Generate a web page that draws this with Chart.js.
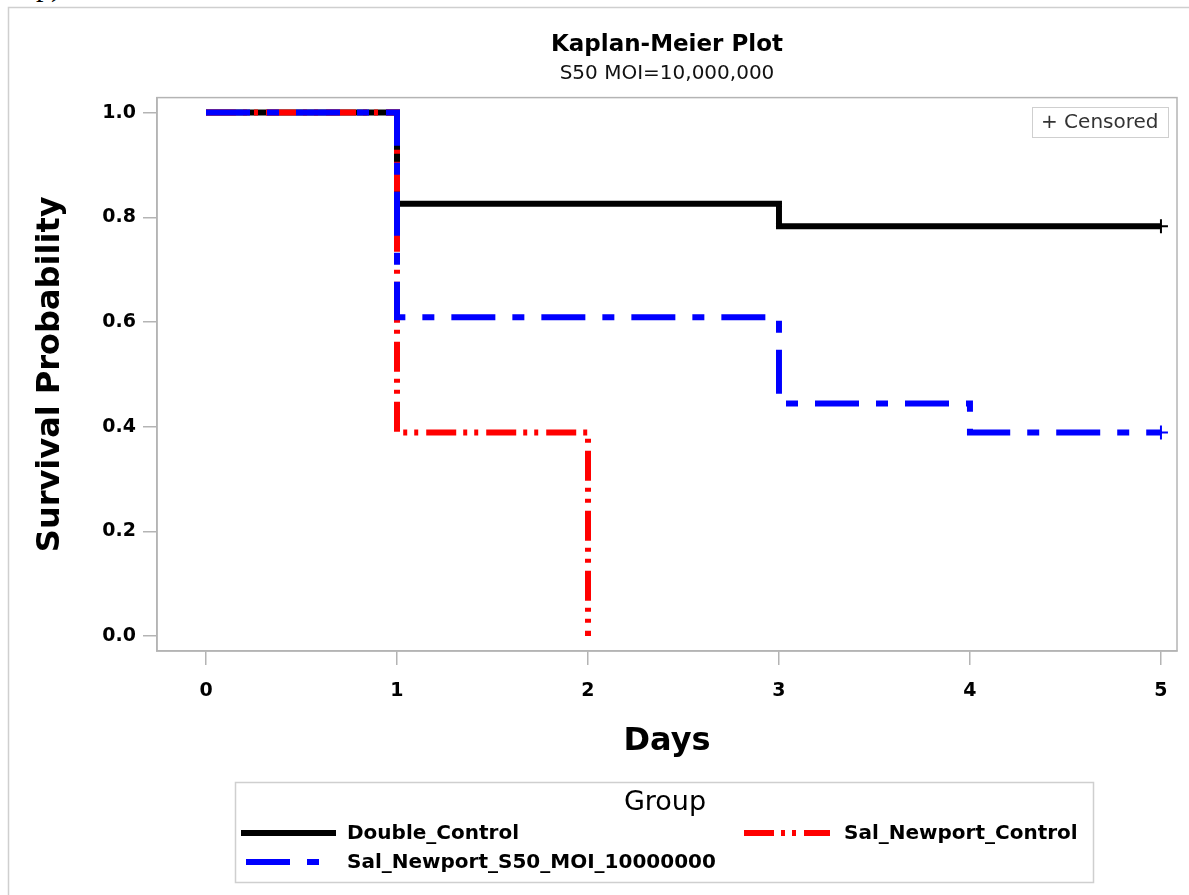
<!DOCTYPE html>
<html>
<head>
<meta charset="utf-8">
<script src="https://cdn.jsdelivr.net/npm/chart.js@4.4.1/dist/chart.umd.min.js"></script>
<style>
  html, body { margin: 0; padding: 0; background: #ffffff; }
  #wrap { position: relative; width: 1189px; height: 895px; overflow: hidden; }
  #cv { position: absolute; left: 0; top: 0; }
  #panel { position: absolute; left: 36px; top: -31px; font-family: "Liberation Serif", serif; font-size: 30px; color: #000; }
</style>
</head>
<body>
<div id="wrap">
  <div id="panel">p)</div>
  <canvas id="cv" width="1189" height="895"></canvas>
</div>
<script>
// ---- data ----
const groupNames = ["Double_Control", "Sal_Newport_Control", "Sal_Newport_S50_MOI_10000000"];
const doubleControlDays = [0, 1, 3, 5];
const doubleControlSurv = [1.0, 0.826, 0.783, 0.783];
const salControlDays = [0, 1, 2];
const salControlSurv = [1.0, 0.389, 0.0];
const salS50Days = [0, 1, 3, 4, 5];
const salS50Surv = [1.0, 0.609, 0.444, 0.389, 0.389];
const censoredDouble = [false, false, false, true];
const censoredSalControl = [false, false, false];
const censoredS50 = [false, false, false, false, true];
const xTicks = [0, 1, 2, 3, 4, 5];
const yTicks = [0.0, 0.2, 0.4, 0.6, 0.8, 1.0];
const titleText = "Kaplan-Meier Plot";
const subtitleText = "S50 MOI=10,000,000";
const xTitle = "Days";
const yTitle = "Survival Probability";
const legendTitle = "Group";
const insetText = "+ Censored";

const FONT = "'DejaVu Sans', sans-serif";
const GRAY = "#b4b4b4";
const colors = ["#000000", "#ff0000", "#0000ff"];
const dashes = [[], [30, 7, 4, 7, 4, 8], [44, 17, 12, 17]];

function pts(xs, ys) { return xs.map((x, i) => ({ x: x, y: ys[i] })); }
function radiusFrom(cens) { return ctx => (cens[ctx.dataIndex] ? 7 : 0); }

const datasets = [
  { label: groupNames[0], data: pts(doubleControlDays, doubleControlSurv), censored: censoredDouble, order: 2 },
  { label: groupNames[1], data: pts(salControlDays, salControlSurv), censored: censoredSalControl, order: 1 },
  { label: groupNames[2], data: pts(salS50Days, salS50Surv), censored: censoredS50, order: 0 }
].map((d, i) => ({
  label: d.label,
  data: d.data,
  order: d.order,
  stepped: 'before',
  borderColor: colors[i],
  backgroundColor: colors[i],
  borderWidth: 6,
  borderDash: dashes[i],
  borderCapStyle: 'butt',
  borderJoinStyle: 'miter',
  fill: false,
  pointStyle: 'cross',
  pointRadius: radiusFrom(d.censored),
  pointHoverRadius: 0,
  pointBorderWidth: 2,
  pointBorderColor: colors[i],
  clip: 8
}));

const framePlugin = {
  id: 'frame',
  beforeDraw(chart) {
    const c = chart.ctx;
    c.save();
    c.strokeStyle = "#cfcfcf";
    c.lineWidth = 1.5;
    c.beginPath();
    c.moveTo(8.5, 895);
    c.lineTo(8.5, 7.5);
    c.lineTo(1189, 7.5);
    c.stroke();
    c.restore();
  },
  afterDraw(chart) {
    const c = chart.ctx;
    const a = chart.chartArea;
    c.save();
    // plot box
    c.strokeStyle = GRAY;
    c.lineWidth = 1.5;
    c.strokeRect(a.left, a.top, a.right - a.left, a.bottom - a.top);
    // censored inset
    c.strokeStyle = "#cfcfcf";
    c.lineWidth = 1;
    c.strokeRect(1032.5, 107.5, 136, 30);
    c.fillStyle = "#333333";
    c.font = "20px " + FONT;
    c.textBaseline = "middle";
    c.textAlign = "left";
    c.fillText(insetText, 1041, 123);
    // legend box
    c.strokeStyle = "#cfcfcf";
    c.lineWidth = 1.5;
    c.strokeRect(235.5, 782.5, 858, 100);
    c.fillStyle = "#000";
    c.textAlign = "center";
    c.font = "27px " + FONT;
    c.fillText(legendTitle, 665, 803);
    c.textAlign = "left";
    c.font = "bold 20px " + FONT;
    const items = [
      { i: 0, x0: 241, x1: 336, tx: 347, y: 833 },
      { i: 1, x0: 744, x1: 830, tx: 844, y: 833 },
      { i: 2, x0: 246, x1: 320, tx: 347, y: 862 }
    ];
    items.forEach(it => {
      c.save();
      c.beginPath();
      c.rect(it.x0, it.y - 10, it.x1 - it.x0, 20);
      c.clip();
      c.strokeStyle = colors[it.i];
      c.lineWidth = 6;
      c.lineCap = 'butt';
      c.setLineDash(dashes[it.i]);
      c.beginPath();
      c.moveTo(it.x0, it.y);
      c.lineTo(it.x1 + 20, it.y);
      c.stroke();
      c.restore();
      c.fillStyle = "#000";
      c.fillText(groupNames[it.i], it.tx, it.y + 1);
    });
    c.restore();
  }
};

new Chart(document.getElementById('cv'), {
  type: 'line',
  data: { datasets: datasets },
  plugins: [framePlugin],
  options: {
    responsive: false,
    devicePixelRatio: 1,
    animation: false,
    events: [],
    layout: { padding: { left: 0, right: 12, top: 0, bottom: 125 } },
    plugins: {
      legend: { display: false },
      tooltip: { enabled: false },
      title: {
        display: true, fullSize: false, text: titleText, color: '#000',
        font: { family: FONT, size: 23, weight: 'bold', lineHeight: 1.2 },
        padding: { top: 31, bottom: 2 }
      },
      subtitle: {
        display: true, fullSize: false, text: subtitleText, color: '#111',
        font: { family: FONT, size: 20, weight: 'normal', lineHeight: 1.2 },
        padding: { top: 1, bottom: 12 }
      }
    },
    scales: {
      x: {
        type: 'linear', min: -0.2565, max: 5.084,
        afterBuildTicks: s => { s.ticks = xTicks.map(v => ({ value: v })); },
        afterFit: s => { s.height = 119; },
        grid: { drawOnChartArea: false, drawTicks: true, tickLength: 14, color: GRAY, lineWidth: 1.5 },
        border: { display: true, color: GRAY, width: 1.5 },
        ticks: { color: '#000', font: { family: FONT, size: 19, weight: 'bold' }, padding: 15,
                 callback: v => String(v), maxRotation: 0, autoSkip: false },
        title: { display: true, text: xTitle, color: '#000',
                 font: { family: FONT, size: 32, weight: 'bold', lineHeight: 1.2 },
                 padding: { top: 0, bottom: 9 } }
      },
      y: {
        type: 'linear', min: -0.0287, max: 1.0287,
        afterBuildTicks: s => { s.ticks = yTicks.map(v => ({ value: v })); },
        afterFit: s => { s.width = 157; },
        grid: { drawOnChartArea: false, drawTicks: true, tickLength: 14, color: GRAY, lineWidth: 1.5 },
        border: { display: true, color: GRAY, width: 1.5 },
        ticks: { color: '#000', font: { family: FONT, size: 19, weight: 'bold' }, padding: 7,
                 callback: v => Number(v).toFixed(1), autoSkip: false },
        title: { display: true, text: yTitle, color: '#000',
                 font: { family: FONT, size: 32, weight: 'bold', lineHeight: 1.2 },
                 padding: { top: 31, bottom: 0 } }
      }
    }
  }
});
</script>
</body>
</html>
